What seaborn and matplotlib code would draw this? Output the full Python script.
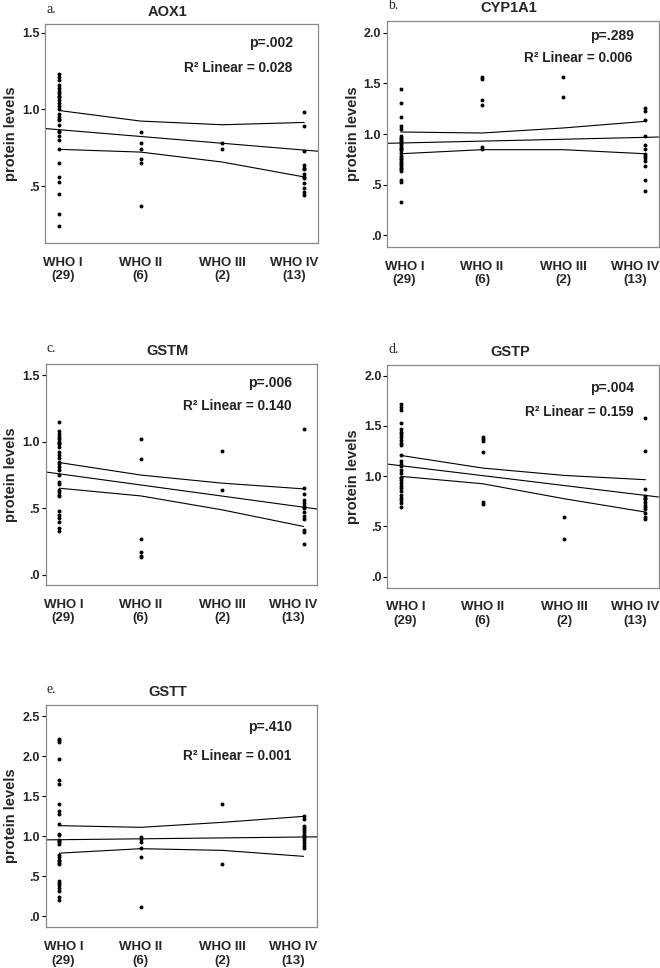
import numpy as np
import pandas as pd
import matplotlib
matplotlib.use("Agg")
import matplotlib.pyplot as plt
from matplotlib.transforms import ScaledTranslation
import seaborn as sns

# grade categories on the x axis
grade_pos = [1, 2, 3, 4]
grades = ["WHO I\n(29)", "WHO II\n(6)", "WHO III\n(2)", "WHO IV\n(13)"]

# AOX1 protein levels by grade
aox1_g1 = [1.23, 1.21, 1.19, 1.16, 1.14, 1.12, 1.11, 1.09, 1.08, 1.06, 1.04, 1.02, 1.00,
           0.97, 0.95, 0.94, 0.93, 0.90, 0.86, 0.85, 0.83, 0.80, 0.74, 0.65, 0.56, 0.53,
           0.45, 0.32, 0.24]
aox1_g2 = [0.85, 0.78, 0.74, 0.68, 0.65, 0.37]
aox1_g3 = [0.78, 0.74]
aox1_g4 = [0.98, 0.89, 0.73, 0.64, 0.62, 0.61, 0.58, 0.56, 0.55, 0.52, 0.49, 0.46, 0.44]
aox1_fit = [0.868, 0.735]                 # fit line at WHO I and WHO IV
aox1_ci_hi = [0.993, 0.924, 0.900, 0.915]
aox1_ci_lo = [0.740, 0.722, 0.657, 0.560]

# CYP1A1
cyp_g1 = [1.45, 1.31, 1.17, 1.08, 1.05, 0.98, 0.96, 0.95, 0.93, 0.92, 0.90, 0.88, 0.86,
          0.85, 0.84, 0.81, 0.78, 0.76, 0.75, 0.73, 0.71, 0.70, 0.68, 0.66, 0.65, 0.63,
          0.55, 0.53, 0.33]
cyp_g2 = [1.56, 1.54, 1.34, 1.29, 0.87, 0.85]
cyp_g3 = [1.56, 1.37]
cyp_g4 = [1.26, 1.23, 1.14, 0.98, 0.89, 0.85, 0.80, 0.78, 0.76, 0.73, 0.68, 0.55, 0.44]
cyp_fit = [0.911, 0.967]
cyp_ci_hi = [1.020, 1.010, 1.060, 1.125]
cyp_ci_lo = [0.805, 0.845, 0.845, 0.805]

# GSTM
gstm_g1 = [1.15, 1.08, 1.06, 1.04, 1.02, 1.00, 0.99, 0.98, 0.96, 0.92, 0.90, 0.88, 0.85,
           0.83, 0.81, 0.79, 0.75, 0.70, 0.68, 0.64, 0.62, 0.60, 0.59, 0.48, 0.45, 0.43,
           0.40, 0.35, 0.33]
gstm_g2 = [1.02, 0.87, 0.27, 0.17, 0.14, 0.13]
gstm_g3 = [0.93, 0.64]
gstm_g4 = [1.10, 0.65, 0.61, 0.56, 0.54, 0.52, 0.50, 0.47, 0.44, 0.42, 0.34, 0.32, 0.23]
gstm_fit = [0.759, 0.508]
gstm_ci_hi = [0.844, 0.750, 0.689, 0.646]
gstm_ci_lo = [0.651, 0.593, 0.488, 0.363]

# GSTP
gstp_g1 = [1.72, 1.69, 1.66, 1.53, 1.47, 1.44, 1.42, 1.39, 1.36, 1.33, 1.31, 1.21, 1.15,
           1.12, 1.10, 1.06, 1.03, 0.99, 0.98, 0.96, 0.93, 0.90, 0.88, 0.85, 0.81, 0.78,
           0.76, 0.73, 0.69]
gstp_g2 = [1.39, 1.37, 1.35, 1.24, 0.74, 0.72]
gstp_g3 = [0.59, 0.37]
gstp_g4 = [1.58, 1.25, 0.87, 0.80, 0.78, 0.77, 0.74, 0.71, 0.69, 0.67, 0.63, 0.59, 0.57]
gstp_fit = [1.103, 0.808]
gstp_ci_hi = [1.205, 1.080, 1.007, 0.964]
gstp_ci_lo = [0.997, 0.924, 0.775, 0.642]

# GSTT
gstt_g1 = [2.22, 2.20, 2.18, 1.97, 1.71, 1.66, 1.40, 1.32, 1.28, 1.16, 1.03, 1.02, 0.96,
           0.94, 0.93, 0.91, 0.77, 0.74, 0.71, 0.69, 0.67, 0.65, 0.44, 0.42, 0.39, 0.36,
           0.32, 0.24, 0.21]
gstt_g2 = [0.99, 0.97, 0.93, 0.85, 0.74, 0.12]
gstt_g3 = [1.40, 0.65]
gstt_g4 = [1.26, 1.22, 1.13, 1.10, 1.08, 1.05, 1.02, 1.00, 0.98, 0.95, 0.92, 0.88, 0.85]
gstt_fit = [0.958, 0.992]
gstt_ci_hi = [1.134, 1.113, 1.175, 1.250]
gstt_ci_lo = [0.790, 0.846, 0.825, 0.750]

panels = [
    ("a.", "AOX1", [aox1_g1, aox1_g2, aox1_g3, aox1_g4], aox1_fit, aox1_ci_hi, aox1_ci_lo,
     "p=.002", "0.028", [0.5, 1.0, 1.5], [".5", "1.0", "1.5"], (0.13, 1.555)),
    ("b.", "CYP1A1", [cyp_g1, cyp_g2, cyp_g3, cyp_g4], cyp_fit, cyp_ci_hi, cyp_ci_lo,
     "p=.289", "0.006", [0, 0.5, 1.0, 1.5, 2.0], [".0", ".5", "1.0", "1.5", "2.0"], (-0.116, 2.115)),
    ("c.", "GSTM", [gstm_g1, gstm_g2, gstm_g3, gstm_g4], gstm_fit, gstm_ci_hi, gstm_ci_lo,
     "p=.006", "0.140", [0, 0.5, 1.0, 1.5], [".0", ".5", "1.0", "1.5"], (-0.075, 1.586)),
    ("d.", "GSTP", [gstp_g1, gstp_g2, gstp_g3, gstp_g4], gstp_fit, gstp_ci_hi, gstp_ci_lo,
     "p=.004", "0.159", [0, 0.5, 1.0, 1.5, 2.0], [".0", ".5", "1.0", "1.5", "2.0"], (-0.109, 2.106)),
    ("e.", "GSTT", [gstt_g1, gstt_g2, gstt_g3, gstt_g4], gstt_fit, gstt_ci_hi, gstt_ci_lo,
     "p=.410", "0.001", [0, 0.5, 1.0, 1.5, 2.0, 2.5], [".0", ".5", "1.0", "1.5", "2.0", "2.5"],
     (-0.1375, 2.646)),
]

# axes boxes in figure fraction
boxes = [
    [0.068, 0.749, 0.414, 0.226],
    [0.586, 0.745, 0.412, 0.233],
    [0.069, 0.396, 0.412, 0.228],
    [0.587, 0.393, 0.412, 0.230],
    [0.069, 0.042, 0.412, 0.230],
]
text_y = [(0.913, 0.80), (0.933, 0.837), (0.914, 0.81), (0.895, 0.79), (0.90, 0.77)]
label_shift = [4, 0, 0, -10]   # px shift of tick labels, as in the original figure

sns.set_style("white")
plt.rcParams["font.family"] = ["Liberation Sans", "DejaVu Sans"]

fig = plt.figure(figsize=(6.6, 9.68), dpi=100)

for (lab, name, groups, fit, ci_hi, ci_lo, ptxt, r2, yt, ytl, ylim), box, (py, ry) in zip(
        panels, boxes, text_y):
    ax = fig.add_axes(box)
    xs_all, ys_all = [], []
    for g, vals in zip(grade_pos, groups):
        xs_all += [g] * len(vals)
        ys_all += vals
    df = pd.DataFrame({"grade": xs_all, "value": ys_all})

    sns.scatterplot(data=df, x="grade", y="value", ax=ax, s=8, color="black",
                    linewidth=0, legend=False)
    # fit line across whole axes, CI lines only over the grades
    ax.axline((grade_pos[0], fit[0]), (grade_pos[-1], fit[1]), color="black", lw=0.8)
    sns.lineplot(x=grade_pos, y=ci_hi, ax=ax, color="black", lw=0.8)
    sns.lineplot(x=grade_pos, y=ci_lo, ax=ax, color="black", lw=0.8)

    ax.set_xlim(0.83, 4.17)
    ax.set_ylim(*ylim)
    ax.set_xticks(grade_pos)
    ax.set_xticklabels(grades, fontsize=9.5, fontweight="bold", linespacing=1.15)
    ax.set_yticks(yt)
    ax.set_yticklabels(ytl, fontsize=9, fontweight="bold")
    ax.tick_params(axis="x", length=0, pad=10)
    ax.tick_params(axis="y", length=3, width=0.8, color="black", pad=1, left=True)
    for tk, dx in zip(ax.xaxis.get_major_ticks(), label_shift):
        tk.label1.set_transform(tk.label1.get_transform()
                                + ScaledTranslation(dx / 100, 0, fig.dpi_scale_trans))
    ax.set_xlabel("")
    ax.set_ylabel("protein levels", fontsize=10.5, fontweight="bold")
    ax.yaxis.set_label_coords(-0.1, 0.5)
    for sp in ax.spines.values():
        sp.set_color("#888888")
        sp.set_linewidth(0.9)

    ax.text(0.45, 1.058, name, transform=ax.transAxes, ha="center", va="center",
            fontsize=10.5, fontweight="bold")
    ax.text(0.005, 1.068, lab, transform=ax.transAxes, ha="left", va="center",
            fontsize=10, family="Liberation Serif")
    ax.text(0.908, py, ptxt, transform=ax.transAxes, ha="right", va="center",
            fontsize=10, fontweight="bold", color="#222222")
    ax.text(0.905, ry, "R² Linear = " + r2, transform=ax.transAxes, ha="right",
            va="center", fontsize=9.8, fontweight="bold", color="#222222")

fig.savefig("out.png", dpi=100)
